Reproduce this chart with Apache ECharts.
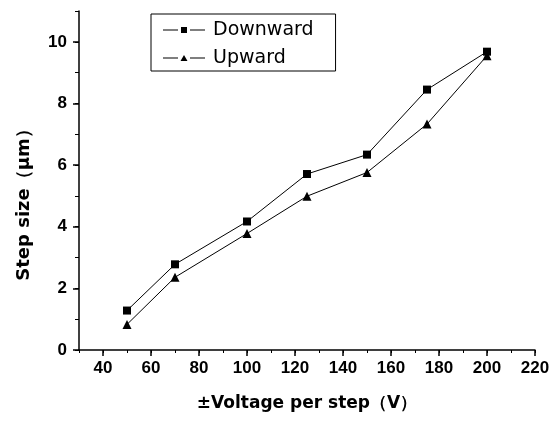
<!DOCTYPE html>
<html><head><meta charset="utf-8">
<script src="https://cdn.jsdelivr.net/npm/echarts@6/dist/echarts.min.js"></script>
<style>html,body{margin:0;padding:0;background:#fff}#c{width:557px;height:421px}</style>
</head><body><div id="c"></div>
<script>
const voltages = [50, 70, 100, 125, 150, 175, 200];
const downward = [1.28, 2.78, 4.17, 5.71, 6.34, 8.45, 9.68];
const upward = [0.83, 2.36, 3.78, 4.99, 5.76, 7.33, 9.55];
const xTickLabels = [40, 60, 80, 100, 120, 140, 160, 180, 200, 220];
const yTickLabels = [0, 2, 4, 6, 8, 10];

const fontA = '"Liberation Sans", Arial, sans-serif';
const fontD = '"DejaVu Sans", sans-serif';
const iconDown = 'path://M0,4.5h15v1H0z M18,2h6v6h-6z M27,4.5h15v1H27z';
const iconUp = 'path://M0,4.5h15v1H0z M21,2L24.5,8H17.5z M27,4.5h15v1H27z';
const chart = echarts.init(document.getElementById('c'));
chart.setOption({
  backgroundColor: '#fff',
  animation: false,
  grid: {left: 79, right: 22, top: 11, bottom: 71},
  legend: {
    orient: 'vertical', left: 151, top: 14,
    borderColor: '#000', borderWidth: 1, padding: [6, 22, 3, 12],
    itemWidth: 42, itemHeight: 6, itemGap: 8,
    itemStyle: {borderWidth: 0},
    textStyle: {fontFamily: fontD, fontSize: 19, color: '#000', lineHeight: 20, padding: [0, 0, 0, 3]},
    data: [{name: 'Downward', icon: iconDown}, {name: 'Upward', icon: iconUp}]
  },
  xAxis: [{
    type: 'value', min: 30, max: 220, interval: 10,
    name: '±Voltage per step（V）', nameLocation: 'middle', nameGap: 45,
    nameTextStyle: {fontFamily: fontD, fontSize: 17, fontWeight: 'bold', color: '#000'},
    axisLine: {show: true, lineStyle: {color: '#000', width: 1.5}},
    axisTick: {show: true, length: 6, inside: false, customValues: xTickLabels, lineStyle: {color: '#000', width: 1.5}},
    axisLabel: {customValues: xTickLabels, fontFamily: fontA, fontSize: 17, fontWeight: 'bold', color: '#000', margin: 10},
    splitLine: {show: false}
  }, {
    type: 'value', min: 30, max: 220, interval: 10, position: 'bottom',
    axisLine: {show: false},
    axisTick: {show: true, length: 3, lineStyle: {color: '#000', width: 1}},
    axisLabel: {show: false}, splitLine: {show: false}
  }],
  yAxis: [{
    type: 'value', min: 0, max: 11, interval: 2,
    name: 'Step size（μm）', nameLocation: 'middle', nameGap: 46,
    nameTextStyle: {fontFamily: fontD, fontSize: 18, fontWeight: 'bold', color: '#000', padding: [0, 40, 0, 0]},
    axisLine: {show: true, lineStyle: {color: '#000', width: 1.5}},
    axisTick: {show: true, length: 6, customValues: yTickLabels, lineStyle: {color: '#000', width: 1.5}},
    axisLabel: {customValues: yTickLabels, fontFamily: fontA, fontSize: 17, fontWeight: 'bold', color: '#000', margin: 12},
    splitLine: {show: false}
  }, {
    type: 'value', min: 0, max: 11, interval: 1, position: 'left',
    axisLine: {show: false},
    axisTick: {show: true, length: 4, lineStyle: {color: '#000', width: 1}},
    axisLabel: {show: false}, splitLine: {show: false}
  }],
  series: [{
    name: 'Downward', type: 'line', xAxisIndex: 0, yAxisIndex: 0,
    data: voltages.map((v, i) => [v, downward[i]]),
    symbol: 'rect', symbolSize: 8,
    itemStyle: {color: '#000'}, lineStyle: {color: '#000', width: 1}
  }, {
    name: 'Upward', type: 'line', xAxisIndex: 0, yAxisIndex: 0,
    data: voltages.map((v, i) => [v, upward[i]]),
    symbol: 'triangle', symbolSize: 9,
    itemStyle: {color: '#000'}, lineStyle: {color: '#000', width: 1}
  }]
});
</script></body></html>
